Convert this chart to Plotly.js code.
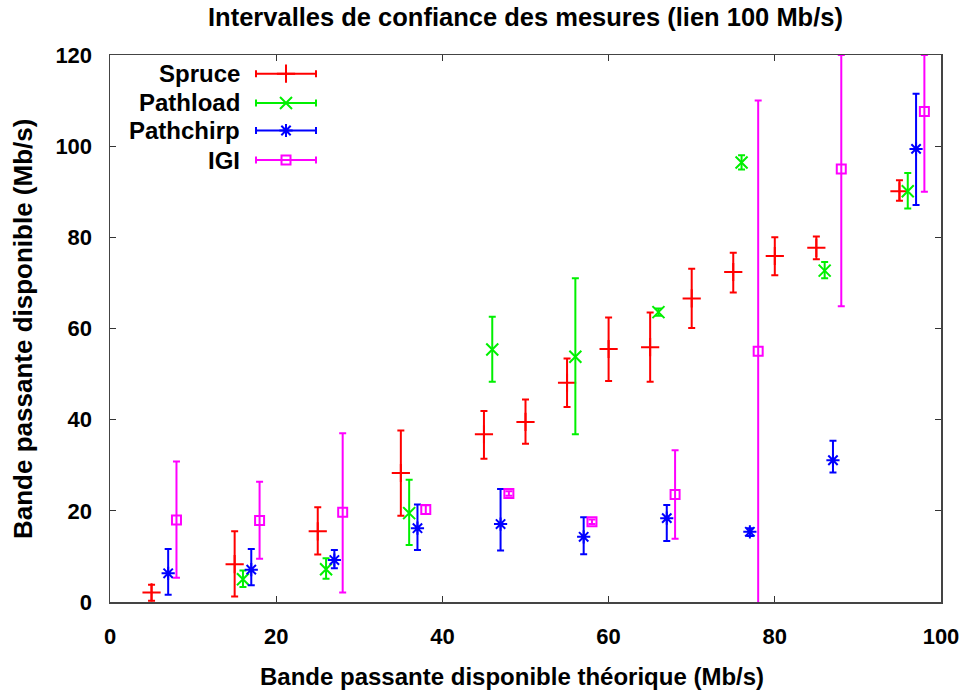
<!DOCTYPE html>
<html>
<head>
<meta charset="utf-8">
<script src="https://cdn.plot.ly/plotly-3.0.1.min.js"></script>
<style>
html,body{margin:0;padding:0;background:#fff;}
#chart{width:968px;height:692px;}
</style>
</head>
<body>
<div id="chart"></div>
<script>
// ---- data ----
const seriesNames = ["Spruce", "Pathload", "Pathchirp", "IGI"];

const spruceX     = [5, 15, 25, 35, 45, 50, 55, 60, 65, 70, 75, 80, 85, 95];
const spruceY     = [2.1, 8.3, 15.5, 28.3, 36.8, 39.5, 48.1, 55.5, 55.9, 66.6, 72.4, 75.9, 77.7, 90.1];
const spruceLow   = [0.3, 1.2, 10.4, 18.9, 31.4, 34.7, 42.8, 48.5, 48.3, 60.1, 67.9, 71.7, 75.2, 88.0];
const spruceHigh  = [3.8, 15.5, 20.8, 37.6, 41.9, 44.4, 53.4, 62.4, 63.5, 73.1, 76.6, 80.0, 80.2, 92.5];

const pathloadX    = [16, 26, 36, 46, 56, 66, 76, 86, 96];
const pathloadY    = [5.0, 7.2, 19.5, 55.4, 53.8, 63.6, 96.4, 72.7, 90.1];
const pathloadLow  = [3.3, 5.1, 12.5, 48.3, 36.8, 62.8, 94.9, 71.0, 86.3];
const pathloadHigh = [6.9, 9.6, 26.8, 62.6, 71.0, 64.4, 98.0, 74.6, 94.1];

const pathchirpX    = [7, 17, 27, 37, 47, 57, 67, 77, 87, 97];
const pathchirpY    = [6.3, 7.1, 9.2, 16.2, 17.1, 14.3, 18.4, 15.4, 31.1, 99.4];
const pathchirpLow  = [1.6, 3.7, 7.4, 11.4, 11.3, 10.5, 13.4, 14.5, 28.4, 87.1];
const pathchirpHigh = [11.6, 11.6, 11.4, 21.4, 24.8, 18.6, 21.3, 16.2, 35.4, 111.5];

const igiX    = [8, 18, 28, 38, 48, 58, 68, 78, 88, 98];
const igiY    = [18.0, 17.9, 19.7, 20.3, 23.8, 17.6, 23.6, 55.0, 95.0, 107.6];
const igiLow  = [5.3, 9.5, 2.1, 19.3, 23.3, 17.1, 13.9, -5, 64.9, 90.0];
const igiHigh = [30.8, 26.4, 37.0, 21.2, 24.3, 18.1, 33.3, 110, 120, 120];

const xTicks = [0, 20, 40, 60, 80, 100];
const yTicks = [0, 20, 40, 60, 80, 100, 120];

const titleText  = "Intervalles de confiance des mesures (lien 100 Mb/s)";
const xTitleText = "Bande passante disponible théorique (Mb/s)";
const yTitleText = "Bande passante disponible (Mb/s)";

// ---- styles ----
const FONT = "Liberation Sans, Arial, Helvetica, sans-serif";
const colors  = ["#ff0000", "#00f000", "#0000ff", "#ff00ff"];
const symbols = ["cross-thin-open", "x-thin-open", "asterisk-open", "square-open"];
const sizes   = [13, 12, 11, 9];

const series = [
  {x: spruceX, y: spruceY, lo: spruceLow, hi: spruceHigh},
  {x: pathloadX, y: pathloadY, lo: pathloadLow, hi: pathloadHigh},
  {x: pathchirpX, y: pathchirpY, lo: pathchirpLow, hi: pathchirpHigh},
  {x: igiX, y: igiY, lo: igiLow, hi: igiHigh}
];

const traces = series.map((s, i) => ({
  type: "scatter",
  mode: "markers",
  name: seriesNames[i],
  x: s.x,
  y: s.y,
  showlegend: false,
  cliponaxis: true,
  marker: {symbol: symbols[i], size: sizes[i], color: colors[i],
           line: {color: colors[i], width: 2}},
  error_y: {type: "data", symmetric: false,
            array: s.y.map((v, k) => s.hi[k] - v),
            arrayminus: s.y.map((v, k) => v - s.lo[k]),
            color: colors[i], thickness: 2, width: 3.5}
}));

// custom gnuplot-style key (text on the left, sample on the right)
const keyX = 0.2118, keyHalf = 0.0361, keyTextX = 0.1585;
const keyRows = [0.9658, 0.9124, 0.8620, 0.8080];
seriesNames.forEach((n, i) => {
  traces.push({
    type: "scatter", mode: "markers", xaxis: "x2", yaxis: "y2",
    x: [keyX], y: [keyRows[i]], showlegend: false, hoverinfo: "skip",
    marker: {symbol: symbols[i], size: sizes[i], color: colors[i],
             line: {color: colors[i], width: 2}},
    error_x: {type: "data", array: [keyHalf], color: colors[i], thickness: 2, width: 3.5}
  });
});

const boldFont = (sz) => ({family: FONT, size: sz, color: "#000", weight: 700});

const annotations = seriesNames.map((n, i) => ({
  xref: "paper", yref: "paper", x: keyTextX, y: keyRows[i],
  xanchor: "right", yanchor: "middle", showarrow: false,
  text: n, font: boldFont(24)
}));
// axis titles
annotations.push({
  xref: "paper", yref: "paper", x: 0.4838, y: -0.1371,
  xanchor: "center", yanchor: "middle", showarrow: false,
  text: xTitleText, font: boldFont(24)
});
annotations.push({
  xref: "paper", yref: "paper", x: -0.1053, y: 0.5,
  xanchor: "center", yanchor: "middle", showarrow: false, textangle: -90,
  text: yTitleText, font: boldFont(26)
});

const axisCommon = {
  showgrid: false, zeroline: false, showline: true, linecolor: "#444", linewidth: 1.5,
  mirror: "ticks", ticks: "inside", ticklen: 6, tickwidth: 1.2, tickcolor: "#333",
  tickfont: boldFont(22)
};

const layout = {
  width: 968, height: 692,
  paper_bgcolor: "#fff", plot_bgcolor: "#fff",
  margin: {l: 110, r: 27, t: 55, b: 90, autoexpand: false},
  title: {text: titleText, font: boldFont(25.5),
          x: 0.5, xref: "paper", y: 0.975, yref: "container", yanchor: "middle"},
  xaxis: Object.assign({}, axisCommon, {
    range: [0, 100], tickvals: xTicks, ticktext: xTicks.map(String),
    ticklabelstandoff: 14
  }),
  yaxis: Object.assign({}, axisCommon, {
    range: [0, 120], tickvals: yTicks, ticktext: yTicks.map(String),
    ticklabelstandoff: 12
  }),
  xaxis2: {overlaying: "x", range: [0, 1], visible: false, fixedrange: true},
  yaxis2: {overlaying: "y", range: [0, 1], visible: false, fixedrange: true},
  annotations: annotations,
  showlegend: false
};

Plotly.newPlot("chart", traces, layout, {displayModeBar: false, staticPlot: true});
</script>
</body>
</html>
